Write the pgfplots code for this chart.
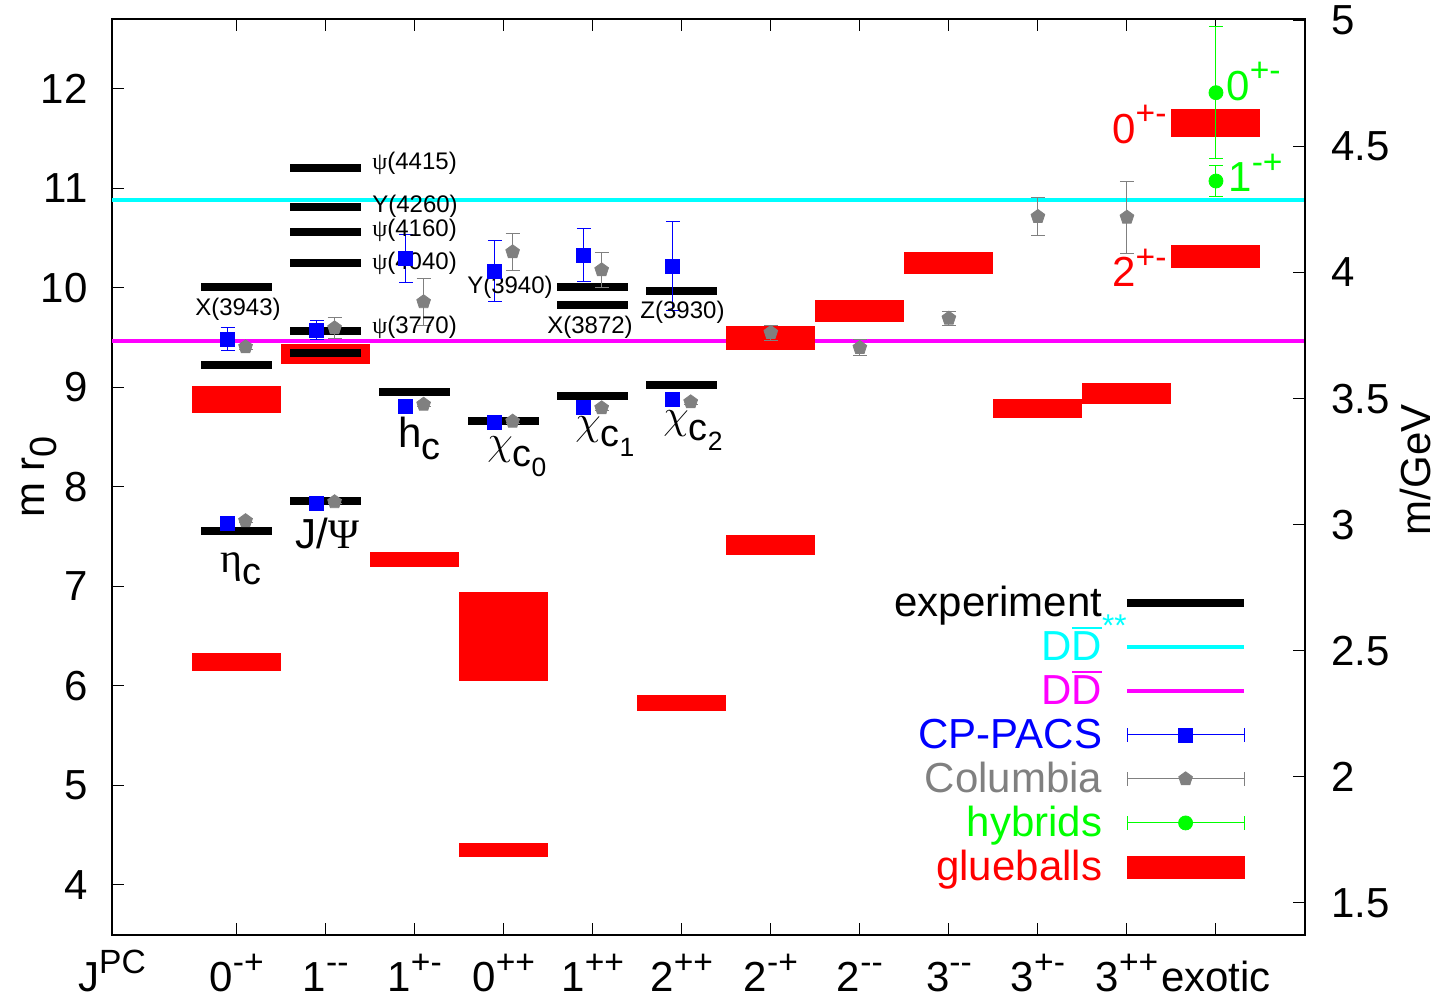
\documentclass[border=0pt]{standalone}
\usepackage{pgfplots}
\pgfplotsset{compat=1.18}
\usepackage{fontspec}
\setmainfont{Liberation Sans}
\newfontfamily\grk{Liberation Serif}
\definecolor{cyn}{RGB}{0,255,255}
\definecolor{mgt}{RGB}{255,0,255}
\definecolor{grn}{RGB}{0,255,0}
\definecolor{gry}{RGB}{128,128,128}
\definecolor{blu}{RGB}{0,0,255}
\definecolor{rd}{RGB}{255,0,0}
\newcommand\fbig{\fontsize{21}{25}\selectfont}
\newcommand\fsmall{\fontsize{12}{14}\selectfont}
\newcommand\sps[1]{\raisebox{0.45em}{\scalebox{0.8}{#1}}}
\newcommand\sbs[1]{\raisebox{-0.28em}{\scalebox{0.9}{#1}}}
\newcommand\ssbs[1]{\raisebox{-0.25em}{\scalebox{0.7}{#1}}}
\newcommand\ovD{\vbox{\hrule height 1pt\kern 1.5pt\hbox{D}}}
\begin{document}
\begin{tikzpicture}
\begin{axis}[name=ax, scale only axis, width=596.5pt, height=458pt,
  xmin=-0.4, xmax=13, ymin=3.4975, ymax=12.7035,
  axis line style={line width=1pt},
  tick align=inside, major tick length=6pt,
  tick style={line width=0.5pt, black},
  xtick={-0.4,1,2,3,4,5,6,7,8,9,10,11,12},
  xticklabels={J\sps{PC}, 0\sps{-+}, 1\sps{-{}-}, 1\sps{+-}, 0\sps{++}, 1\sps{++}, 2\sps{++}, 2\sps{-+}, 2\sps{-{}-}, 3\sps{-{}-}, 3\sps{+-}, 3\sps{++}, exotic},
  xtick pos=both, xticklabel pos=lower,
  ytick={4,5,6,7,8,9,10,11,12},
  yticklabels={4,5,6,7,8,9,10,11,12},
  ytick pos=left, yticklabel pos=left,
  ticklabel style={font=\fbig, inner sep=0pt},
  xticklabel style={anchor=base, yshift=-28.5pt, text depth=0pt},
  yticklabel style={anchor=east, xshift=-12pt},
  ylabel={m r\sbs{0}},
  every axis y label/.style={at={(axis description cs:-0.0562,0.5)}, rotate=90, anchor=base, font=\fbig},
  legend cell align=right, legend plot pos=right,
  legend style={at={(axis description cs:0.9523,0.3865)}, anchor=north east, draw=none, fill=none,
    inner sep=0pt, outer sep=0pt, row sep=0pt, column sep=10.5pt, font=\fbig,
    nodes={inner sep=0pt, text height=18pt, text depth=4pt}},
]
% thresholds
\addplot[forget plot, cyn, line width=2pt] coordinates {(-0.4,10.881) (13,10.881)};
\addplot[forget plot, mgt, line width=2pt] coordinates {(-0.4,9.467) (13,9.467)};
% glueballs
\addplot[forget plot, draw=none, no markers, error bars/.cd, y dir=both, y explicit, error mark=none,
  error bar style={line width=44.5pt, draw=rd, line cap=butt}]
  table[x=x, y=y, y error=e, row sep=\\]{
  x y e\\
  1 8.878 0.137\\
  1 6.245 0.090\\
  2 9.338 0.099\\
  3 7.269 0.075\\
  4 6.497 0.450\\
  4 4.355 0.070\\
  6 5.826 0.080\\
  7 9.499 0.119\\
  7 7.419 0.099\\
  8 9.767 0.109\\
  9 10.250 0.110\\
  10 8.787 0.097\\
  11 8.940 0.110\\
  12 11.660 0.140\\
  12 10.317 0.117\\
};
% experiment
\addplot[forget plot, draw=none, no markers, error bars/.cd, x dir=both, x fixed=0.4, error mark=none,
  error bar style={line width=4pt, draw=black, line cap=butt}]
  table[x=x, y=y, row sep=\\]{
  x y\\
  1 7.557\\
  1 9.226\\
  1 10.005\\
  2 7.857\\
  2 9.350\\
  2 9.571\\
  2 10.254\\
  2 10.560\\
  2 10.817\\
  2 11.206\\
  3 8.955\\
  4 8.660\\
  5 8.915\\
  5 9.829\\
  5 10.010\\
  6 9.025\\
  6 9.970\\
};
% CP-PACS
\addplot[forget plot, only marks, mark=square*, mark size=3.5pt, color=blu,
  error bars/.cd, y dir=both, y explicit, error mark options={rotate=90, line width=0.5pt, mark size=3.5pt, blu},
  error bar style={line width=0.5pt, blu}]
  table[x=x, y=y, y error=e, row sep=\\]{
  x y e\\
  0.9 7.638 0.0\\
  0.9 9.487 0.12\\
  1.9 7.839 0.0\\
  1.9 9.578 0.10\\
  2.9 8.814 0.0\\
  2.9 10.30 0.24\\
  3.9 8.653 0.0\\
  3.9 10.171 0.31\\
  4.9 8.804 0.0\\
  4.9 10.332 0.27\\
  5.9 8.884 0.0\\
  5.9 10.221 0.45\\
};
% Columbia
\addplot[forget plot, only marks, mark=pentagon*, mark size=3.6pt, color=gry,
  error bars/.cd, y dir=both, y explicit, error mark options={rotate=90, line width=0.5pt, mark size=3.5pt, gry},
  error bar style={line width=0.5pt, gry}]
  table[x=x, y=y, y error=e, row sep=\\]{
  x y e\\
  1.1 7.66 0.02\\
  1.1 9.407 0.03\\
  2.1 7.85 0.02\\
  2.1 9.598 0.105\\
  3.1 8.83 0.02\\
  3.1 9.86 0.235\\
  4.1 8.66 0.02\\
  4.1 10.362 0.19\\
  5.1 8.794 0.03\\
  5.1 10.181 0.18\\
  6.1 8.854 0.02\\
  7 9.551 0.075\\
  8 9.40 0.08\\
  9 9.695 0.067\\
  10 10.717 0.19\\
  11 10.71 0.36\\
};
% hybrids
\addplot[forget plot, only marks, mark=*, mark size=3.5pt, color=grn,
  error bars/.cd, y dir=both, y explicit, error mark options={rotate=90, line width=0.5pt, mark size=3.5pt, grn},
  error bar style={line width=0.5pt, grn}]
  table[x=x, y=y, y error=e, row sep=\\]{
  x y e\\
  12 11.963 0.66\\
  12 11.075 0.16\\
};
% legend
\addlegendimage{legend image code/.code={\draw[line width=4pt, black] (0pt,0pt) -- (58.5pt,0pt);}}
\addlegendentry{experiment}
\addlegendimage{legend image code/.code={\draw[line width=2pt, cyn] (0pt,0pt) -- (58.5pt,0pt);}}
\addlegendentry{\color{cyn}D\ovD\rlap{\raisebox{0.58em}{\scalebox{0.75}{**}}}}
\addlegendimage{legend image code/.code={\draw[line width=2pt, mgt] (0pt,0pt) -- (58.5pt,0pt);}}
\addlegendentry{\color{mgt}D\ovD}
\addlegendimage{legend image code/.code={\draw[line width=0.5pt, blu] (0pt,0pt) -- (58.5pt,0pt) (0pt,-3.5pt) -- (0pt,3.5pt) (58.5pt,-3.5pt) -- (58.5pt,3.5pt); \fill[blu] (25.75pt,-3.5pt) rectangle (32.75pt,3.5pt);}}
\addlegendentry{\color{blu}CP-PACS}
\addlegendimage{legend image code/.code={\draw[line width=0.5pt, gry] (0pt,0pt) -- (58.5pt,0pt) (0pt,-3.5pt) -- (0pt,3.5pt) (58.5pt,-3.5pt) -- (58.5pt,3.5pt); \draw[gry, fill=gry, mark size=3.6pt] plot[mark=pentagon*] coordinates {(29.25pt,0pt)};}}
\addlegendentry{\color{gry}Columbia}
\addlegendimage{legend image code/.code={\draw[line width=0.5pt, grn] (0pt,0pt) -- (58.5pt,0pt) (0pt,-3.5pt) -- (0pt,3.5pt) (58.5pt,-3.5pt) -- (58.5pt,3.5pt); \fill[grn] (29.25pt,0pt) circle (3.5pt);}}
\addlegendentry{\color{grn}hybrids}
\addlegendimage{legend image code/.code={\fill[rd] (0pt,-5.5pt) rectangle (58.5pt,5.5pt);}}
\addlegendentry{\color{rd}glueballs}
% small labels
\node[font=\fsmall, anchor=center] at (axis cs:1.015,9.789) {X(3943)};
\node[font=\fsmall, anchor=west, inner sep=0pt] at (axis cs:2.520,11.256) {{\grk ψ}(4415)};
\node[font=\fsmall, anchor=west, inner sep=0pt] at (axis cs:2.520,10.824) {Y(4260)};
\node[font=\fsmall, anchor=west, inner sep=0pt] at (axis cs:2.520,10.583) {{\grk ψ}(4160)};
\node[font=\fsmall, anchor=west, inner sep=0pt] at (axis cs:2.520,10.251) {{\grk ψ}(4040)};
\node[font=\fsmall, anchor=west, inner sep=0pt] at (axis cs:2.520,9.608) {{\grk ψ}(3770)};
\node[font=\fsmall, anchor=center, inner sep=0pt] at (axis cs:4.070,10.010) {Y(3940)};
\node[font=\fsmall, anchor=center, inner sep=0pt] at (axis cs:4.969,9.608) {X(3872)};
\node[font=\fsmall, anchor=center, inner sep=0pt] at (axis cs:6.008,9.759) {Z(3930)};
% big labels
\node[font=\fbig, anchor=base west, inner sep=0pt] at (axis cs:0.813,7.136) {{\grk η}\sbs{c}};
\node[font=\fbig, anchor=base west, inner sep=0pt] at (axis cs:1.656,7.377) {J/{\grk Ψ}};
\node[font=\fbig, anchor=base west, inner sep=0pt] at (axis cs:2.812,8.392) {h\sbs{c}};
\node[font=\fbig, anchor=base west, inner sep=0pt] at (axis cs:3.812,8.322) {$\chi$\sbs{c\ssbs{0}}};
\node[font=\fbig, anchor=base west, inner sep=0pt] at (axis cs:4.800,8.523) {$\chi$\sbs{c\ssbs{1}}};
\node[font=\fbig, anchor=base west, inner sep=0pt] at (axis cs:5.789,8.583) {$\chi$\sbs{c\ssbs{2}}};
% exotic labels
\node[font=\fbig, anchor=base west, inner sep=0pt, text=grn] at (axis cs:12.113,11.889) {0\sps{+-}};
\node[font=\fbig, anchor=base west, inner sep=0pt, text=grn] at (axis cs:12.135,10.965) {1\sps{-+}};
\node[font=\fbig, anchor=base west, inner sep=0pt, text=rd] at (axis cs:10.832,11.457) {0\sps{+-}};
\node[font=\fbig, anchor=base west, inner sep=0pt, text=rd] at (axis cs:10.832,10.010) {2\sps{+-}};
\end{axis}
\begin{axis}[scale only axis, width=596.5pt, height=458pt,
  xmin=-0.4, xmax=13, ymin=1.373, ymax=5.005,
  axis x line=none, axis y line*=right,
  axis line style={line width=1pt},
  tick align=inside, major tick length=6pt,
  tick style={line width=0.5pt, black},
  ytick={1.5,2,2.5,3,3.5,4,4.5,5},
  yticklabels={1.5,2,2.5,3,3.5,4,4.5,5},
  ticklabel style={font=\fbig, inner sep=0pt},
  yticklabel style={anchor=west, xshift=13pt},
  ylabel={m/GeV},
  every axis y label/.style={at={(axis description cs:1.1048,0.508)}, rotate=90, anchor=base, font=\fbig},
]
\addplot[draw=none] coordinates {(0,2)};
\end{axis}
\pgfresetboundingbox
\path[use as bounding box] ([shift={(-56pt,-32pt)}]ax.south west) rectangle ([shift={(65.5pt,9.5pt)}]ax.north east);
\end{tikzpicture}
\end{document}
